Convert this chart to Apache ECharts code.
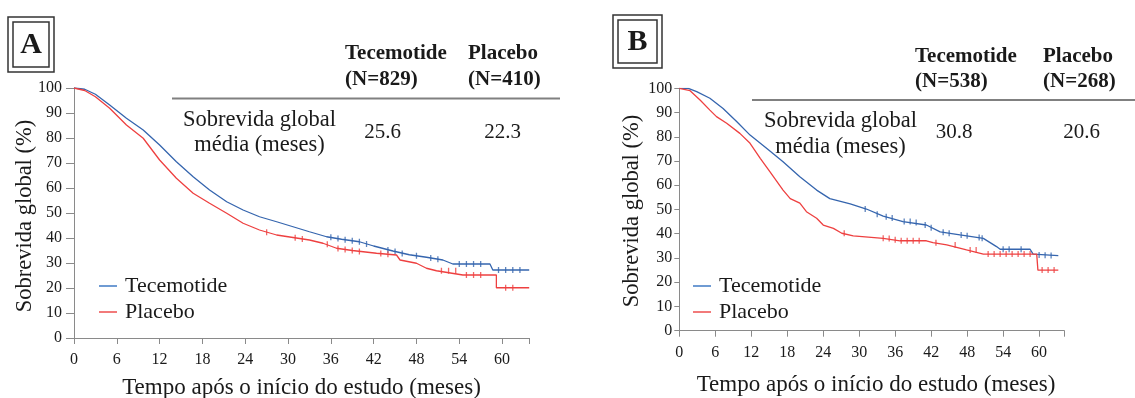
<!DOCTYPE html>
<html>
<head>
<meta charset="utf-8">
<script src="https://cdn.jsdelivr.net/npm/echarts@6/dist/echarts.min.js"></script>
<style>
  html, body { margin: 0; padding: 0; background: #ffffff; }
  #chart { width: 1135px; height: 398px; }
</style>
</head>
<body>
<div id="chart"></div>
<script>
// ---------- data ----------
const seriesNames = ['Tecemotide', 'Placebo'];
const xTickStep = 6;
const yTicks = [0, 10, 20, 30, 40, 50, 60, 70, 80, 90, 100];

// Panel A: [month, survival %]
const aTecemotide = [[0,100],[1.5,99.5],[3,97.5],[5,93.2],[7.35,87.9],[9.7,83.2],[12,77.2],[14.35,70.5],[16.7,64.5],[19,59.2],[21.4,54.5],[23.7,51.2],[26,48.5],[28.4,46.5],[30.7,44.5],[33,42.5],[35.4,40.5],[37.5,39.5],[40,38.5],[42,36.8],[44.7,34.8],[47,33.3],[49.4,32.3],[51.7,31.2],[53.1,29.6],[58.3,29.6],[58.7,27.2],[63.8,27.2]];
const aPlacebo = [[0,100],[1.5,99],[3,96.5],[5,91.9],[7.35,85.2],[9.7,79.9],[12,71.2],[14.35,63.9],[16.7,57.9],[19,53.9],[21.4,49.9],[23.7,45.9],[26,43.2],[28.4,41.2],[30.7,40.2],[33,39.2],[34.9,37.9],[36.8,35.9],[39,35],[42.4,33.9],[45.2,33.2],[45.7,31.2],[48,29.9],[49.4,27.9],[50.8,26.9],[54.5,25.2],[59.2,25.2],[59.2,20.1],[63.8,20.1]];
const aTecemotideCensor = [[36,40.3],[37,39.8],[38,39.3],[39,38.9],[40,38.5],[41,37.6],[44,35.2],[45,34.6],[46,33.8],[48,32.9],[50,32],[51,31.5],[54,29.6],[55,29.6],[56,29.6],[57,29.6],[59.5,27.2],[60.5,27.2],[61.5,27.2],[62.5,27.2]];
const aPlaceboCensor = [[27,42.3],[31,40.1],[32,39.6],[35.5,37.5],[37,35.8],[38,35.4],[39,35],[40,34.6],[43,33.8],[44,33.5],[51.5,26.9],[52.5,26.9],[53.5,26.9],[55,25.2],[56,25.2],[57,25.2],[60.5,20.1],[61.5,20.1]];

// Panel B
const bTecemotide = [[0,100],[1.5,100],[2.9,98.6],[5.1,95.9],[7.3,91.7],[9.6,86.2],[11.8,80.7],[14.6,75.2],[17.3,69.7],[20.1,63.5],[22.9,58],[25.1,54.5],[28.5,52.3],[31.2,50.2],[34,47.3],[37.3,45],[41.2,43.6],[43.5,40.8],[46.8,39.5],[50.7,38.1],[52.9,34.7],[53.5,33.6],[58.5,33.6],[59,31.6],[63.2,31]];
const bPlacebo = [[0,100],[1.8,99],[3.5,95.1],[5.1,91],[6.2,88.3],[7.9,85.6],[10.1,81.4],[11.8,77.3],[13.5,71.1],[15.1,65.6],[17.3,58],[18.5,54.5],[20.1,52.6],[21.2,49.1],[22.9,46.4],[24,43.6],[25.7,42.2],[27.1,40.2],[29,39.1],[34,38.1],[36.8,37.1],[41.2,37.1],[42.3,36.3],[44.6,35.4],[47.9,33.3],[50.7,31.6],[59.6,31.6],[59.8,25],[63.2,25]];
const bTecemotideCensor = [[31,50.2],[33,48],[34.5,47],[35.5,46.5],[37.5,45],[38.5,45],[39.5,44.6],[41,43.6],[42,42.5],[44,40.6],[45,40.2],[47,39.5],[48,39.2],[50,38.5],[50.5,38.1],[54,33.6],[55,33.6],[57,33.6],[60,31.2],[61,31.1],[62,31]];
const bPlaceboCensor = [[27.5,40.2],[34,38.1],[35,38],[36,37.5],[37,37.1],[38,37.1],[39,37.1],[40,37.1],[42.8,36.3],[46,35.4],[48.5,33.3],[49.5,33.3],[51.5,31.6],[52.5,31.6],[53.5,31.6],[54.5,31.6],[55.5,31.6],[56.5,31.6],[57.5,31.6],[58.5,31.6],[60.5,25],[61.5,25],[62.5,25]];

// table texts
const tableA = { head: ['Tecemotide', '(N=829)', 'Placebo', '(N=410)'], row: ['Sobrevida global', 'média (meses)'], values: ['25.6', '22.3'] };
const tableB = { head: ['Tecemotide', '(N=538)', 'Placebo', '(N=268)'], row: ['Sobrevida global', 'média (meses)'], values: ['30.8', '20.6'] };
const xTitle = 'Tempo após o início do estudo (meses)';
const yTitle = 'Sobrevida global (%)';
const panelLetters = ['A', 'B'];

// ---------- styling ----------
const FONT = '"Liberation Serif", "Times New Roman", serif';
const TXT = '#1a1a1a';
const BLUE = '#3565ae';
const RED = '#ee4040';
const BLUE_LEG = '#6f9bd3';
const RED_LEG = '#f27a7a';
const AXIS = '#8a8a8a';

const chart = echarts.init(document.getElementById('chart'), null, { renderer: 'canvas' });

function xAxisCfg(gi, max, margin) {
  return {
    type: 'value', gridIndex: gi, min: 0, max: max, interval: xTickStep,
    axisLine: { show: true, lineStyle: { color: AXIS, width: 1 } },
    axisTick: { show: true, length: 6, lineStyle: { color: AXIS } },
    splitLine: { show: false },
    axisLabel: {
      margin: margin, fontFamily: FONT, fontSize: 16, color: TXT,
      formatter: v => (Math.abs(v % xTickStep) < 1e-9 ? String(v) : '')
    }
  };
}
function yAxisCfg(gi, tickLen, margin) {
  return {
    type: 'value', gridIndex: gi, min: yTicks[0], max: yTicks[yTicks.length - 1], interval: yTicks[1] - yTicks[0],
    axisLine: { show: true, lineStyle: { color: AXIS, width: 1 } },
    axisTick: { show: true, length: tickLen, lineStyle: { color: AXIS } },
    splitLine: { show: false },
    axisLabel: { margin: margin, fontFamily: FONT, fontSize: 16, color: TXT }
  };
}
function lineSeries(name, data, gi, color) {
  return {
    type: 'line', name: name, data: data, xAxisIndex: gi, yAxisIndex: gi,
    showSymbol: false, symbol: 'none', silent: true,
    lineStyle: { color: color, width: 1.3 }, itemStyle: { color: color }
  };
}
function censorSeries(name, data, gi, color) {
  return {
    type: 'scatter', name: name, data: data, xAxisIndex: gi, yAxisIndex: gi,
    symbol: 'rect', symbolSize: [1.3, 6], silent: true,
    itemStyle: { color: color }
  };
}
function legendCfg(left) {
  return {
    orient: 'vertical', left: left, top: 273, itemGap: 0, padding: 0,
    icon: 'rect', itemWidth: 18, itemHeight: 2,
    textStyle: { fontFamily: FONT, fontSize: 22, color: TXT, lineHeight: 26, padding: [0, 0, 0, 3] },
    selectedMode: false,
    data: [
      { name: seriesNames[0], itemStyle: { color: BLUE_LEG } },
      { name: seriesNames[1], itemStyle: { color: RED_LEG } }
    ]
  };
}
function txt(x, y, text, opts) {
  opts = opts || {};
  return {
    type: 'text', x: x, y: y, rotation: opts.rotation || 0, silent: true,
    style: {
      text: text, fill: TXT,
      font: (opts.bold ? 'bold ' : '') + (opts.size || 21) + 'px ' + FONT,
      align: opts.align || 'left', verticalAlign: 'middle',
      textAlign: opts.align || 'left', textVerticalAlign: 'middle'
    }
  };
}
function box(x, y, w, h, letter) {
  return [
    { type: 'rect', shape: { x: x, y: y, width: w, height: h }, style: { fill: 'none', stroke: '#333', lineWidth: 1.5 }, silent: true },
    { type: 'rect', shape: { x: x + 5, y: y + 5, width: w - 10, height: h - 10 }, style: { fill: 'none', stroke: '#333', lineWidth: 1.5 }, silent: true },
    txt(x + w / 2, y + h / 2 + 1, letter, { bold: true, size: 30, align: 'center' })
  ];
}
function table(t, cfg) {
  return [
    txt(cfg.c1, cfg.h1, t.head[0], { bold: true }),
    txt(cfg.c1, cfg.h2, t.head[1], { bold: true }),
    txt(cfg.c2, cfg.h1, t.head[2], { bold: true }),
    txt(cfg.c2, cfg.h2, t.head[3], { bold: true }),
    { type: 'line', shape: { x1: cfg.lx1, y1: cfg.ly, x2: cfg.lx2, y2: cfg.ly }, style: { stroke: '#808080', lineWidth: 1.8 }, silent: true },
    txt(cfg.rx, cfg.r1, t.row[0], { align: 'center', size: 22.5 }),
    txt(cfg.rx, cfg.r2, t.row[1], { align: 'center', size: 22.5 }),
    txt(cfg.v1, cfg.vy, t.values[0], { align: 'center' }),
    txt(cfg.v2, cfg.vy, t.values[1], { align: 'center' })
  ];
}

const graphics = [].concat(
  box(8, 17, 46, 55, panelLetters[0]),
  box(613, 15, 49, 53, panelLetters[1]),
  table(tableA, { c1: 345, c2: 468, h1: 54, h2: 80, lx1: 172, lx2: 560, ly: 98.5, rx: 259.5, r1: 120, r2: 145, v1: 382.5, v2: 502.5, vy: 132 }),
  table(tableB, { c1: 915, c2: 1043, h1: 57, h2: 82, lx1: 752, lx2: 1135, ly: 100, rx: 840.5, r1: 121, r2: 147, v1: 954, v2: 1081.5, vy: 132 }),
  [
    txt(301.5, 388, xTitle, { size: 23, align: 'center' }),
    txt(876, 385, xTitle, { size: 23, align: 'center' }),
    txt(25, 216, yTitle, { size: 22.5, align: 'center', rotation: Math.PI / 2 }),
    txt(632, 211, yTitle, { size: 22.5, align: 'center', rotation: Math.PI / 2 })
  ]
);

const option = {
  animation: false,
  backgroundColor: '#ffffff',
  grid: [
    { left: 74, top: 88, width: 455.2, height: 250 },
    { left: 679.3, top: 88.3, width: 385, height: 242.4 }
  ],
  xAxis: [xAxisCfg(0, 63.8, 14), xAxisCfg(1, 64.2, 14)],
  yAxis: [yAxisCfg(0, 8, 12), yAxisCfg(1, 5, 7)],
  legend: [legendCfg(99), legendCfg(693)],
  series: [
    lineSeries(seriesNames[0], aTecemotide, 0, BLUE),
    lineSeries(seriesNames[1], aPlacebo, 0, RED),
    censorSeries(seriesNames[0], aTecemotideCensor, 0, BLUE),
    censorSeries(seriesNames[1], aPlaceboCensor, 0, RED),
    lineSeries(seriesNames[0], bTecemotide, 1, BLUE),
    lineSeries(seriesNames[1], bPlacebo, 1, RED),
    censorSeries(seriesNames[0], bTecemotideCensor, 1, BLUE),
    censorSeries(seriesNames[1], bPlaceboCensor, 1, RED)
  ],
  graphic: graphics
};
chart.setOption(option);
</script>
</body>
</html>
